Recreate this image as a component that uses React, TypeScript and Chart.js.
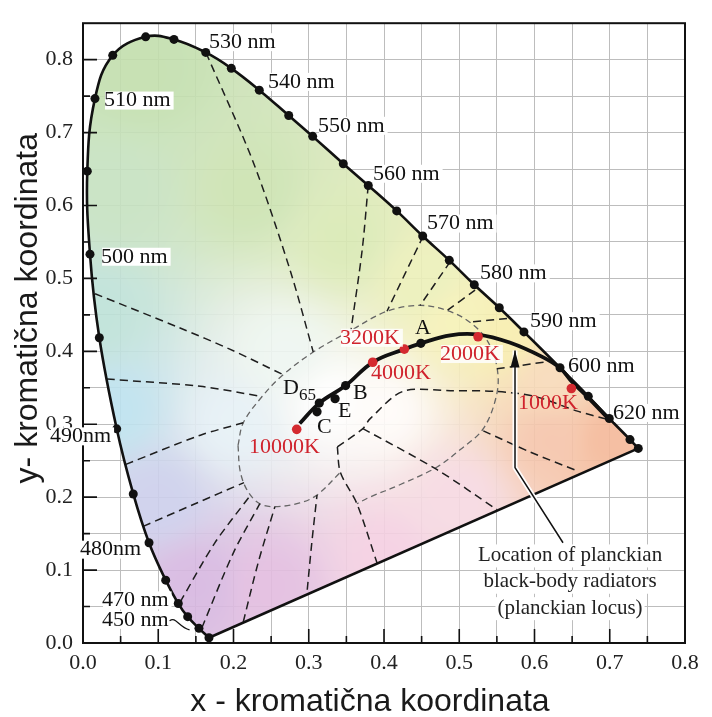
import React, { useEffect, useRef } from "react";
import { Chart, registerables } from "chart.js";

Chart.register(...registerables);

type Pt = [number, number];

const SERIF = '"Liberation Serif", "Times New Roman", serif';
const SANS = '"Liberation Sans", Arial, sans-serif';

// ---------- axis ticks ----------
const xTickLabels = ["0.0", "0.1", "0.2", "0.3", "0.4", "0.5", "0.6", "0.7", "0.8"];
const yTickLabels = ["0.0", "0.1", "0.2", "0.3", "0.4", "0.5", "0.6", "0.7", "0.8"];
const xTitle = "x - kromatična koordinata";
const yTitle = "y- kromatična koordinata";

// ---------- spectral locus (dots) ----------
const locusX = [0.1674, 0.1541, 0.1391, 0.1266, 0.1099, 0.0877, 0.0668, 0.0448, 0.0217, 0.0093, 0.0057, 0.0159, 0.0395, 0.0833, 0.1209, 0.1631, 0.1971, 0.2343, 0.2734, 0.3052, 0.3459, 0.3791, 0.4169, 0.4514, 0.4868, 0.52, 0.5532, 0.586, 0.6339, 0.6715, 0.6994, 0.7269, 0.7379];
const locusY = [0.0072, 0.0201, 0.0361, 0.0541, 0.0862, 0.1375, 0.2044, 0.2937, 0.4186, 0.5333, 0.6471, 0.7466, 0.8059, 0.8313, 0.8278, 0.8099, 0.7881, 0.7582, 0.7234, 0.6948, 0.6573, 0.6274, 0.5926, 0.5582, 0.5248, 0.4913, 0.4597, 0.4266, 0.3775, 0.3383, 0.3079, 0.279, 0.2669];

// ---------- planckian locus ----------
const planckX = [0.288, 0.314, 0.349, 0.385, 0.427, 0.449, 0.488, 0.525, 0.567, 0.611, 0.634, 0.65, 0.67, 0.698];
const planckY = [0.301, 0.329, 0.353, 0.385, 0.403, 0.411, 0.422, 0.423, 0.412, 0.392, 0.377, 0.358, 0.338, 0.308];

const illumX = [0.449, 0.349, 0.311, 0.314, 0.335];
const illumY = [0.411, 0.353, 0.317, 0.329, 0.335];

const tempNames = ["10000K", "4000K", "3200K", "2000K", "1000K"];
const tempX = [0.284, 0.385, 0.427, 0.525, 0.649];
const tempY = [0.293, 0.385, 0.403, 0.42, 0.349];
const tempLabelX = [0.2206, 0.3827, 0.3415, 0.4744, 0.5781];
const tempLabelY = [0.2686, 0.3704, 0.4186, 0.3963, 0.329];

const letterNames = ["A", "B", "E", "C", "D"];
const letterX = [0.4412, 0.3588, 0.3389, 0.311, 0.2658];
const letterY = [0.432, 0.3423, 0.3182, 0.2955, 0.349];

// ---------- wavelength labels ----------
const waveNames = ["530 nm", "540 nm", "550 nm", "560 nm", "570 nm", "580 nm", "590 nm", "600 nm", "620 nm", "510 nm", "500 nm", "490nm", "480nm", "470 nm", "450 nm"];
const waveX = [0.1674, 0.2458, 0.3123, 0.3854, 0.4571, 0.5276, 0.594, 0.6445, 0.7043, 0.0279, 0.0239, -0.0439, -0.004, 0.0252, 0.0252];
const waveY = [0.824, 0.7695, 0.7093, 0.6435, 0.5752, 0.5069, 0.4414, 0.3798, 0.3155, 0.7439, 0.5297, 0.2834, 0.128, 0.0585, 0.0317];

// ---------- annotation ----------
const noteLines = ["Location of planckian", "black-body radiators", "(planckian locus)"];
const noteX = 0.6472;
const noteY = [0.1201, 0.084, 0.0478];
const arrowPath: Pt[] = [[0.6379, 0.1375], [0.5741, 0.2406], [0.5741, 0.4012]];

// ---------- dashed region boundaries ----------
const loopOuter: Pt[] = [[0.206, 0.271], [0.213, 0.302], [0.238, 0.338], [0.266, 0.368], [0.306, 0.399], [0.355, 0.428], [0.404, 0.455], [0.448, 0.463], [0.484, 0.456], [0.514, 0.44], [0.537, 0.415], [0.55, 0.379], [0.55, 0.342], [0.532, 0.294], [0.501, 0.265], [0.47, 0.241], [0.421, 0.217], [0.381, 0.2], [0.364, 0.191]];
const loopLower: Pt[] = [[0.206, 0.271], [0.209, 0.235], [0.219, 0.208], [0.235, 0.191], [0.255, 0.187], [0.288, 0.192], [0.311, 0.203], [0.342, 0.234]];
const lineCenterDown: Pt[] = [[0.338, 0.269], [0.342, 0.234], [0.364, 0.191], [0.391, 0.109]];
const lineTo620: Pt[] = [[0.338, 0.269], [0.372, 0.294], [0.381, 0.307], [0.425, 0.345], [0.488, 0.346], [0.55, 0.345], [0.601, 0.338], [0.657, 0.318], [0.696, 0.307]];
const lineRightPurple: Pt[] = [[0.532, 0.291], [0.594, 0.262], [0.657, 0.236]];
const lineDiagPurple: Pt[] = [[0.372, 0.294], [0.47, 0.238], [0.55, 0.183]];
const line595: Pt[] = [[0.55, 0.376], [0.618, 0.386]];
const line530: Pt[] = [[0.1635, 0.8095], [0.226, 0.66], [0.275, 0.512], [0.306, 0.399]];
const line560: Pt[] = [[0.379, 0.627], [0.371, 0.539], [0.356, 0.428]];
const line570: Pt[] = [[0.452, 0.558], [0.404, 0.455]];
const line575: Pt[] = [[0.488, 0.523], [0.448, 0.463]];
const line580: Pt[] = [[0.521, 0.484], [0.484, 0.456]];
const line587: Pt[] = [[0.5635, 0.445], [0.514, 0.44]];
const line497: Pt[] = [[0.016, 0.479], [0.129, 0.432], [0.195, 0.403], [0.266, 0.368]];
const line492: Pt[] = [[0.032, 0.362], [0.156, 0.352], [0.238, 0.338]];
const line488: Pt[] = [[0.057, 0.245], [0.156, 0.285], [0.213, 0.302]];
const line483: Pt[] = [[0.08, 0.16], [0.149, 0.191], [0.214, 0.22]];
const line475: Pt[] = [[0.129, 0.056], [0.175, 0.137], [0.222, 0.202]];
const purpleA: Pt[] = [[0.158, 0.021], [0.2, 0.124], [0.235, 0.191]];
const purpleB: Pt[] = [[0.213, 0.029], [0.233, 0.111], [0.255, 0.187]];
const purpleC: Pt[] = [[0.298, 0.073], [0.304, 0.137], [0.311, 0.203]];

const greyDashed = [loopOuter, loopLower];
const blackDashed = [lineCenterDown, lineTo620, lineRightPurple, lineDiagPurple, line595, line530, line560, line570, line575, line580, line587, line497, line492, line488, line483, line475, purpleA, purpleB, purpleC];

// ---------- colour field anchors ----------
const fillAnchorX = [0.08, 0.05, 0.22, 0.35, 0.02, 0.04, 0.1, 0.15, 0.25, 0.4, 0.5, 0.62, 0.7, 0.62, 0.5, 0.45, 0.33, 0.4, 0.27, 0.2, 0.56];
const fillAnchorY = [0.78, 0.62, 0.62, 0.55, 0.45, 0.32, 0.2, 0.08, 0.08, 0.12, 0.2, 0.28, 0.28, 0.36, 0.44, 0.5, 0.33, 0.32, 0.4, 0.3, 0.42];
const fillAnchorColor = ["#c2deac", "#c6e2c0", "#cbe3b0", "#d9e9b3", "#bde2d8", "#bce2ef", "#cccfec", "#d6b6e0", "#e3bcdf", "#f4cfe2", "#f7d9e2", "#f6c4aa", "#f4b898", "#f8dab8", "#f6f2b6", "#ebf0b8", "#ffffff", "#fffcfa", "#eef6f1", "#e6f1f6", "#f8eeac"];

const toXY = (pts: Pt[]) => pts.map(([x, y]) => ({ x, y }));
const zip = (xs: number[], ys: number[]) => xs.map((x, i) => ({ x, y: ys[i] }));

function hexRgb(h: string): [number, number, number] {
  const n = parseInt(h.slice(1), 16);
  return [(n >> 16) & 255, (n >> 8) & 255, n & 255];
}

const fillPlugin = {
  id: "cieFill",
  beforeDatasetsDraw(chart: any) {
    const { ctx, chartArea: a } = chart;
    const xs = chart.scales.x;
    const ys = chart.scales.y;
    const w = Math.round(a.right - a.left);
    const h = Math.round(a.bottom - a.top);
    let off: HTMLCanvasElement = chart.$cieFill;
    if (!off || off.width !== w || off.height !== h) {
      off = document.createElement("canvas");
      off.width = w;
      off.height = h;
      const octx = off.getContext("2d")!;
      const img = octx.createImageData(w, h);
      const cols = fillAnchorColor.map(hexRgb);
      const n = fillAnchorX.length;
      const xv: number[] = [];
      for (let i = 0; i < w; i++) xv.push(xs.getValueForPixel(a.left + i + 0.5));
      for (let j = 0; j < h; j++) {
        const yv = ys.getValueForPixel(a.top + j + 0.5);
        for (let i = 0; i < w; i++) {
          let sw = 0, r = 0, g = 0, b = 0;
          for (let k = 0; k < n; k++) {
            const dx = xv[i] - fillAnchorX[k];
            const dy = yv - fillAnchorY[k];
            const d2 = dx * dx + dy * dy + 0.0004;
            const wt = 1 / (d2 * Math.sqrt(d2));
            sw += wt;
            r += wt * cols[k][0];
            g += wt * cols[k][1];
            b += wt * cols[k][2];
          }
          const p = (j * w + i) * 4;
          img.data[p] = r / sw;
          img.data[p + 1] = g / sw;
          img.data[p + 2] = b / sw;
          img.data[p + 3] = 255;
        }
      }
      octx.putImageData(img, 0, 0);
      chart.$cieFill = off;
    }
    const meta = chart.getDatasetMeta(0);
    const line = meta && meta.dataset;
    ctx.save();
    ctx.beginPath();
    let ok = false;
    try {
      if (line && typeof line.path === "function") {
        if (typeof line.updateControlPoints === "function") line.updateControlPoints(a, "x");
        line.path(ctx);
        ok = true;
      }
    } catch (e) {
      ok = false;
    }
    if (!ok) {
      ctx.beginPath();
      locusX.forEach((x, i) => {
        const px = xs.getPixelForValue(x);
        const py = ys.getPixelForValue(locusY[i]);
        if (i === 0) ctx.moveTo(px, py);
        else ctx.lineTo(px, py);
      });
    }
    ctx.closePath();
    ctx.clip();
    ctx.globalAlpha = 0.9;
    ctx.drawImage(off, a.left, a.top);
    ctx.restore();
  },
};

function drawLabel(ctx: CanvasRenderingContext2D, text: string, px: number, cy: number, font: string, color: string, bg?: string, size = 18) {
  ctx.font = font;
  const w = ctx.measureText(text).width;
  if (bg) {
    ctx.fillStyle = bg;
    ctx.fillRect(px + 1, cy - size * 0.5, w + 2, size);
  }
  ctx.fillStyle = color;
  ctx.textAlign = "left";
  ctx.textBaseline = "middle";
  ctx.fillText(text, px, cy);
  return w;
}

const overlayPlugin = {
  id: "overlay",
  afterDatasetsDraw(chart: any) {
    const { ctx, chartArea: a } = chart;
    const xs = chart.scales.x;
    const ys = chart.scales.y;
    const X = (v: number) => xs.getPixelForValue(v);
    const Y = (v: number) => ys.getPixelForValue(v);
    ctx.save();

    // frame + inner ticks
    ctx.strokeStyle = "#111";
    ctx.lineWidth = 2;
    ctx.strokeRect(a.left, a.top, a.right - a.left, a.bottom - a.top);
    ctx.lineWidth = 1.6;
    ctx.beginPath();
    for (let k = 1; k < 17; k++) {
      const py = Y(k * 0.05);
      ctx.moveTo(a.left, py);
      ctx.lineTo(a.left + (k % 2 === 0 ? 14 : 7), py);
    }
    for (let k = 1; k < 16; k++) {
      const px = X(k * 0.05);
      ctx.moveTo(px, a.bottom);
      ctx.lineTo(px, a.bottom - (k % 2 === 0 ? 14 : 7));
    }
    ctx.stroke();

    // arrow
    ctx.lineJoin = "round";
    ctx.beginPath();
    arrowPath.forEach(([x, y], i) => (i === 0 ? ctx.moveTo(X(x), Y(y)) : ctx.lineTo(X(x), Y(y))));
    ctx.strokeStyle = "rgba(255,255,255,0.95)";
    ctx.lineWidth = 5;
    ctx.stroke();
    ctx.strokeStyle = "#111";
    ctx.lineWidth = 1.5;
    ctx.stroke();
    const tip = arrowPath[arrowPath.length - 1];
    const tx = X(tip[0]);
    const ty = Y(tip[1]);
    ctx.fillStyle = "#111";
    ctx.beginPath();
    ctx.moveTo(tx, ty);
    ctx.lineTo(tx - 4.5, ty + 17);
    ctx.lineTo(tx + 4.5, ty + 17);
    ctx.closePath();
    ctx.fill();

    // wavelength labels
    waveNames.forEach((t, i) => {
      const px = X(waveX[i]);
      const py = Y(waveY[i]);
      const w = drawLabel(ctx, t, px, py, `22px ${SERIF}`, "#111", "#ffffff");
      if (t === "450 nm") {
        ctx.strokeStyle = "#111";
        ctx.lineWidth = 1.2;
        ctx.beginPath();
        const sx = px + w + 1;
        const sy = py + 1;
        ctx.moveTo(sx, sy);
        ctx.bezierCurveTo(sx + 6, sy - 5, sx + 9, sy + 6, sx + 20, sy + 9);
        ctx.stroke();
      }
    });

    // temperature labels
    tempNames.forEach((t, i) => {
      const bg = t === "3200K" || t === "2000K" ? "rgba(255,255,255,0.85)" : undefined;
      drawLabel(ctx, t, X(tempLabelX[i]), Y(tempLabelY[i]), `22px ${SERIF}`, "#d0232d", bg);
    });

    // illuminant letters
    letterNames.forEach((t, i) => {
      const px = X(letterX[i]);
      const py = Y(letterY[i]);
      const w = drawLabel(ctx, t, px, py, `22px ${SERIF}`, "#111");
      if (t === "D") drawLabel(ctx, "65", px + w, py + 7, `17px ${SERIF}`, "#111");
    });

    // annotation
    ctx.font = `21px ${SERIF}`;
    ctx.textAlign = "center";
    ctx.textBaseline = "middle";
    noteLines.forEach((t, i) => {
      const px = X(noteX);
      const py = Y(noteY[i]);
      const w = ctx.measureText(t).width;
      ctx.fillStyle = "#ffffff";
      ctx.fillRect(px - w / 2 - 2, py - 11, w + 4, 23);
      ctx.fillStyle = "#222";
      ctx.fillText(t, px, py);
    });

    // axis titles
    ctx.fillStyle = "#1a1a1a";
    ctx.font = `32px ${SANS}`;
    ctx.textAlign = "center";
    ctx.textBaseline = "alphabetic";
    ctx.fillText(xTitle, a.left + 287, 711);
    ctx.translate(37, a.top + 285);
    ctx.rotate(-Math.PI / 2);
    ctx.fillText(yTitle, 0, 0);
    ctx.restore();
  },
};

const tickFont = { family: SERIF, size: 22 };

function makeConfig(): any {
  const dashed = [
    ...greyDashed.map((pts) => ({
      data: toXY(pts),
      showLine: true,
      borderColor: "#666666",
      borderWidth: 1.3,
      borderDash: [6, 4],
      pointRadius: 0,
      tension: 0.35,
      order: 6,
    })),
    ...blackDashed.map((pts) => ({
      data: toXY(pts),
      showLine: true,
      borderColor: "#1e1e1e",
      borderWidth: 1.5,
      borderDash: [8, 5],
      pointRadius: 0,
      tension: 0.3,
      order: 5,
    })),
  ];
  return {
    type: "scatter",
    data: {
      datasets: [
        {
          label: "spectral locus",
          data: zip(locusX, locusY),
          showLine: true,
          borderColor: "#111",
          borderWidth: 2.6,
          pointRadius: 4.5,
          pointBackgroundColor: "#111",
          pointBorderWidth: 0,
          tension: 0.4,
          order: 1,
        },
        {
          label: "purple line",
          data: [
            { x: locusX[0], y: locusY[0] },
            { x: locusX[locusX.length - 1], y: locusY[locusY.length - 1] },
          ],
          showLine: true,
          borderColor: "#111",
          borderWidth: 2.6,
          pointRadius: 0,
          order: 2,
        },
        {
          label: "planckian locus",
          data: zip(planckX, planckY),
          showLine: true,
          borderColor: "#111",
          borderWidth: 3.8,
          pointRadius: 0,
          tension: 0.4,
          order: 3,
        },
        {
          label: "illuminants",
          data: zip(illumX, illumY),
          showLine: false,
          pointRadius: 4.6,
          pointBackgroundColor: "#111",
          pointBorderWidth: 0,
          order: 0,
        },
        {
          label: "temperatures",
          data: zip(tempX, tempY),
          showLine: false,
          pointRadius: 4.8,
          pointBackgroundColor: "#d42a30",
          pointBorderWidth: 0,
          order: 0,
        },
        ...dashed,
      ],
    },
    options: {
      animation: false,
      responsive: false,
      devicePixelRatio: 1,
      events: [],
      layout: { padding: { left: 0, right: 27, top: 7, bottom: 0 } },
      plugins: { legend: { display: false }, tooltip: { enabled: false } },
      scales: {
        x: {
          type: "linear",
          min: 0,
          max: 0.8,
          afterFit: (s: any) => {
            s.height = 74;
          },
          border: { display: false },
          grid: { color: "#bdbdbd", lineWidth: 1, drawTicks: false },
          ticks: {
            stepSize: 0.05,
            autoSkip: false,
            maxRotation: 0,
            padding: 7,
            color: "#222",
            font: tickFont,
            callback: (v: any) => {
              const k = Math.round(Number(v) * 20);
              return k % 2 === 0 ? xTickLabels[k / 2] ?? "" : "";
            },
          },
        },
        y: {
          type: "linear",
          min: 0,
          max: 0.85,
          afterFit: (s: any) => {
            s.width = 83;
          },
          border: { display: false },
          grid: { color: "#bdbdbd", lineWidth: 1, drawTicks: false },
          ticks: {
            stepSize: 0.05,
            autoSkip: false,
            padding: 10,
            color: "#222",
            font: tickFont,
            callback: (v: any) => {
              const k = Math.round(Number(v) * 20);
              return k % 2 === 0 ? yTickLabels[k / 2] ?? "" : "";
            },
          },
        },
      },
    },
    plugins: [fillPlugin, overlayPlugin],
  };
}

export default function App() {
  const ref = useRef<HTMLCanvasElement>(null);
  useEffect(() => {
    const chart = new Chart(ref.current as HTMLCanvasElement, makeConfig());
    return () => chart.destroy();
  }, []);
  return (
    <div style={{ position: "absolute", left: 0, top: 0, width: 712, height: 717, background: "#fff" }}>
      <canvas ref={ref} width={712} height={717} style={{ display: "block", width: 712, height: 717 }} />
    </div>
  );
}
